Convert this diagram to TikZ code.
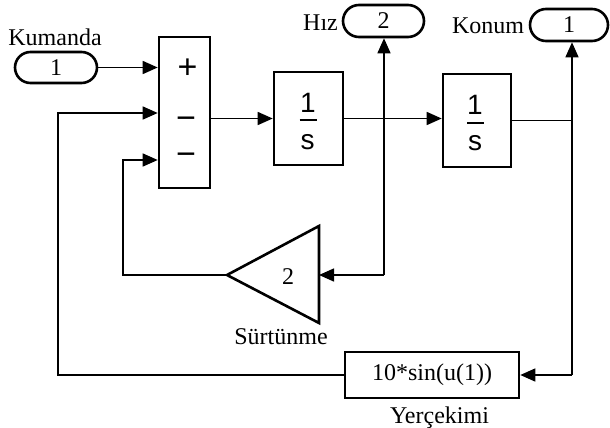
\documentclass[tikz,border=0pt]{standalone}
\usepackage{fontspec}
\setmainfont{Liberation Serif}
\newfontfamily\arialf{Liberation Sans}
\usetikzlibrary{arrows.meta,shapes.misc}
\begin{document}
\begin{tikzpicture}[x=0.5pt,y=-0.5pt,
  blk/.style={draw,line width=1.3pt,inner sep=0pt},
  pill/.style={draw,line width=1.3pt,rounded rectangle,inner sep=0pt,font=\fontsize{12}{14}\selectfont},
  lbl/.style={anchor=base,inner sep=0pt,font=\fontsize{12}{14}\selectfont},
  sg/.style={anchor=base,inner sep=0pt,font=\arialf\fontsize{14}{16}\selectfont},
  pm/.style={anchor=base,inner sep=0pt,font=\arialf\fontsize{17}{19}\selectfont},
  wire/.style={line width=0.75pt},
  arr/.style={wire,-{Triangle[length=7.5pt,width=6.5pt]}}]
\useasboundingbox[fill=white] (0,0) rectangle (610,428);
% inport
\node[pill,minimum width=41pt,minimum height=15.5pt] (in1) at (56,67.5) {1};
\node[lbl] (kum) at (55,46) {Kumanda};
% sum
\node[blk,minimum width=25.5pt,minimum height=75.5pt] (sum) at (184.5,112.5) {};
\node[pm] (sp) at (187.5,78.4) {+};
\node[pm] (sm1) at (186,129.6) {−};
\node[pm] (sm2) at (186,165.6) {−};
% integrator 1
\node[blk,minimum width=34.5pt,minimum height=46.5pt] (int1) at (308.5,118.5) {};
\node[sg] (i1n) at (308,112) {1};
\draw[wire] ([xshift=-4.5pt,yshift=-0.75pt]int1.center) -- ++(8.5pt,0);
\node[sg] (i1d) at (307.5,149) {s};
% integrator 2
\node[blk,minimum width=34pt,minimum height=46.5pt] (int2) at (477,120.5) {};
\node[sg] (i2n) at (475,114) {1};
\draw[wire] ([xshift=-5pt,yshift=-1.25pt]int2.center) -- ++(8.5pt,0);
\node[sg] (i2d) at (475,150) {s};
% outports
\node[lbl] (hizl) at (320.5,31) {Hız};
\node[pill,minimum width=40.5pt,minimum height=16pt] (hiz) at (383.5,21) {2};
\node[lbl] (konl) at (488,33) {Konum};
\node[pill,minimum width=39pt,minimum height=16pt] (konum) at (569,25) {1};
% gain
\coordinate (gtip) at (227,275);
\coordinate (gtop) at (319,226);
\coordinate (gbot) at (319,323);
\coordinate (gin) at (319,275);
\draw[line width=1.3pt,line join=miter] (gtip) -- (gtop) -- (gbot) -- cycle;
\node[lbl] (gval) at (288,284) {2};
\node[lbl] (surt) at (281,344) {Sürtünme};
% fcn
\node[blk,minimum width=87pt,minimum height=23pt,font=\fontsize{12}{14}\selectfont] (fcn) at (432,375) {10*sin(u(1))};
\node[lbl] (yerc) at (439.5,423) {Yerçekimi};
% wires
\draw[arr] (in1.east) -- (in1.east -| sum.west);
\draw[arr] (int1.west -| sum.east) -- (int1.west);
\draw[arr] (int1.east) -- (int1.east -| int2.west);
\coordinate (hb) at (384,275);
\draw[arr] (hb) -- (hb |- hiz.south);
\draw[arr] (hb) -- (gin);
\coordinate (kb) at (572,375);
\draw[wire] (int2.east) -- (int2.east -| kb);
\draw[arr] (kb) -- (kb |- konum.south);
\draw[arr] (kb) -- (fcn.east);
\coordinate (c1) at (58,113);
\draw[arr] (fcn.west) -| (c1) -- (c1 -| sum.west);
\coordinate (c2) at (123,160);
\draw[arr] (gtip) -| (c2) -- (c2 -| sum.west);
\end{tikzpicture}
\end{document}
